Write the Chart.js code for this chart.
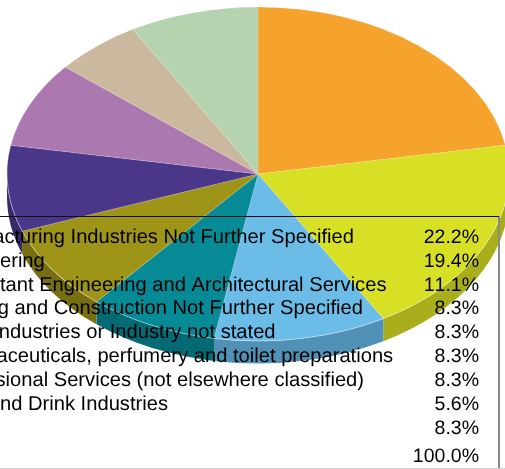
<!DOCTYPE html>
<html>
<head>
<meta charset="utf-8">
<style>
html,body{margin:0;padding:0;background:#fff;width:505px;height:469px;overflow:hidden}
canvas{display:block;position:absolute;left:0;top:0}
</style>
<script src="https://cdn.jsdelivr.net/npm/chart.js@4"></script>
</head>
<body>
<canvas id="c" width="505" height="469"></canvas>
<script>
const categories = [
  "Manufacturing Industries Not Further Specified",
  "Engineering",
  "Consultant Engineering and Architectural Services",
  "Building and Construction Not Further Specified",
  "Other Industries or Industry not stated",
  "Pharmaceuticals, perfumery and toilet preparations",
  "Professional Services (not elsewhere classified)",
  "Food and Drink Industries",
  "Other"
];
const shares = [22.2, 19.4, 11.1, 8.3, 8.3, 8.3, 8.3, 5.6, 8.3];
const shareLabels = ["22.2%","19.4%","11.1%","8.3%","8.3%","8.3%","8.3%","5.6%","8.3%"];
const totalLabel = "100.0%";
const topColors = ["#F5A32D","#D8E025","#6CBCE8","#068A96","#9E9418","#4B378A","#AB79B0","#CAB99E","#B6D3B0"];
const sideColors = ["#B87A22","#A9AE1C","#5191B5","#056A74","#776F12","#38296A","#805A84","#988B77","#899E84"];

const VIEW = {cx:258, cy:174, rx:251, ry:167, depth:22.5};
const TABLE = {left:-2, top:216, right:499, bottom:468, textX:-62.8, valueX:479,
  firstBaseline:242.8, pitch:23.87, totalBaseline:461.5,
  font:"20.16px 'Liberation Sans', Arial, sans-serif",
  valueFont:"19.5px 'Liberation Sans', Arial, sans-serif"};

function applyView(ctx, arc){
  const r = arc.outerRadius;
  ctx.translate(VIEW.cx, VIEW.cy);
  ctx.scale(VIEW.rx/r, VIEW.ry/r);
  ctx.translate(-arc.x, -arc.y);
}

const tiltPlugin = {
  id:'tilt',
  beforeDatasetsDraw(chart){
    const ctx = chart.ctx;
    const arcs = chart.getDatasetMeta(0).data;
    ctx.save();
    arcs.forEach((arc,i)=>{
      const a0 = Math.max(arc.startAngle, 0);
      const a1 = Math.min(arc.endAngle, Math.PI);
      if (a1 <= a0) return;
      const r = arc.outerRadius;
      const d = VIEW.depth * r / VIEW.ry;
      ctx.save();
      applyView(ctx, arc);
      ctx.beginPath();
      ctx.arc(arc.x, arc.y, r, a0, a1);
      ctx.arc(arc.x, arc.y + d, r, a1, a0, true);
      ctx.closePath();
      ctx.fillStyle = sideColors[i];
      ctx.fill();
      ctx.restore();
    });
    applyView(ctx, arcs[0]);
  },
  afterDatasetsDraw(chart){
    const ctx = chart.ctx;
    ctx.restore();
    const arcs = chart.getDatasetMeta(0).data;
    ctx.save();
    applyView(ctx, arcs[0]);
    ctx.beginPath();
    ctx.arc(arcs[0].x, arcs[0].y, arcs[0].outerRadius, 0, Math.PI);
    ctx.strokeStyle = 'rgba(255,255,255,0.35)';
    ctx.lineWidth = 0.9;
    ctx.stroke();
    ctx.restore();
  },
  afterDraw(chart){
    const ctx = chart.ctx, t = TABLE;
    ctx.save();
    ctx.fillStyle = '#cfcfcf';
    ctx.fillRect(0, t.bottom, 505, 1);
    ctx.fillStyle = '#8a8a8a';
    ctx.fillRect(t.right-1, t.top, 2, t.bottom - t.top);
    ctx.fillStyle = '#111';
    ctx.fillRect(0, t.top, t.right, 1);
    ctx.textRendering = 'geometricPrecision';
    ctx.fontKerning = 'none';
    ctx.fillStyle = '#000';
    ctx.textBaseline = 'alphabetic';
    categories.forEach((name,i)=>{
      const y = t.firstBaseline + i*t.pitch;
      ctx.font = t.font;
      ctx.textAlign = 'left';
      ctx.fillText(name, t.textX, y);
      ctx.font = t.valueFont;
      ctx.textAlign = 'right';
      ctx.fillText(shareLabels[i], t.valueX, y);
    });
    ctx.font = t.valueFont;
    ctx.textAlign = 'right';
    ctx.fillText(totalLabel, t.valueX, t.totalBaseline);
    ctx.restore();
  }
};

new Chart(document.getElementById('c'), {
  type:'pie',
  data:{labels:categories, datasets:[{
    data:shares, backgroundColor:topColors,
    borderColor:'rgba(255,255,255,0.22)', borderWidth:0.8, clip:false
  }]},
  options:{
    responsive:false, animation:false, rotation:0,
    layout:{padding:4},
    plugins:{legend:{display:false}, tooltip:{enabled:false}, title:{display:false}}
  },
  plugins:[tiltPlugin]
});
</script>
</body>
</html>
